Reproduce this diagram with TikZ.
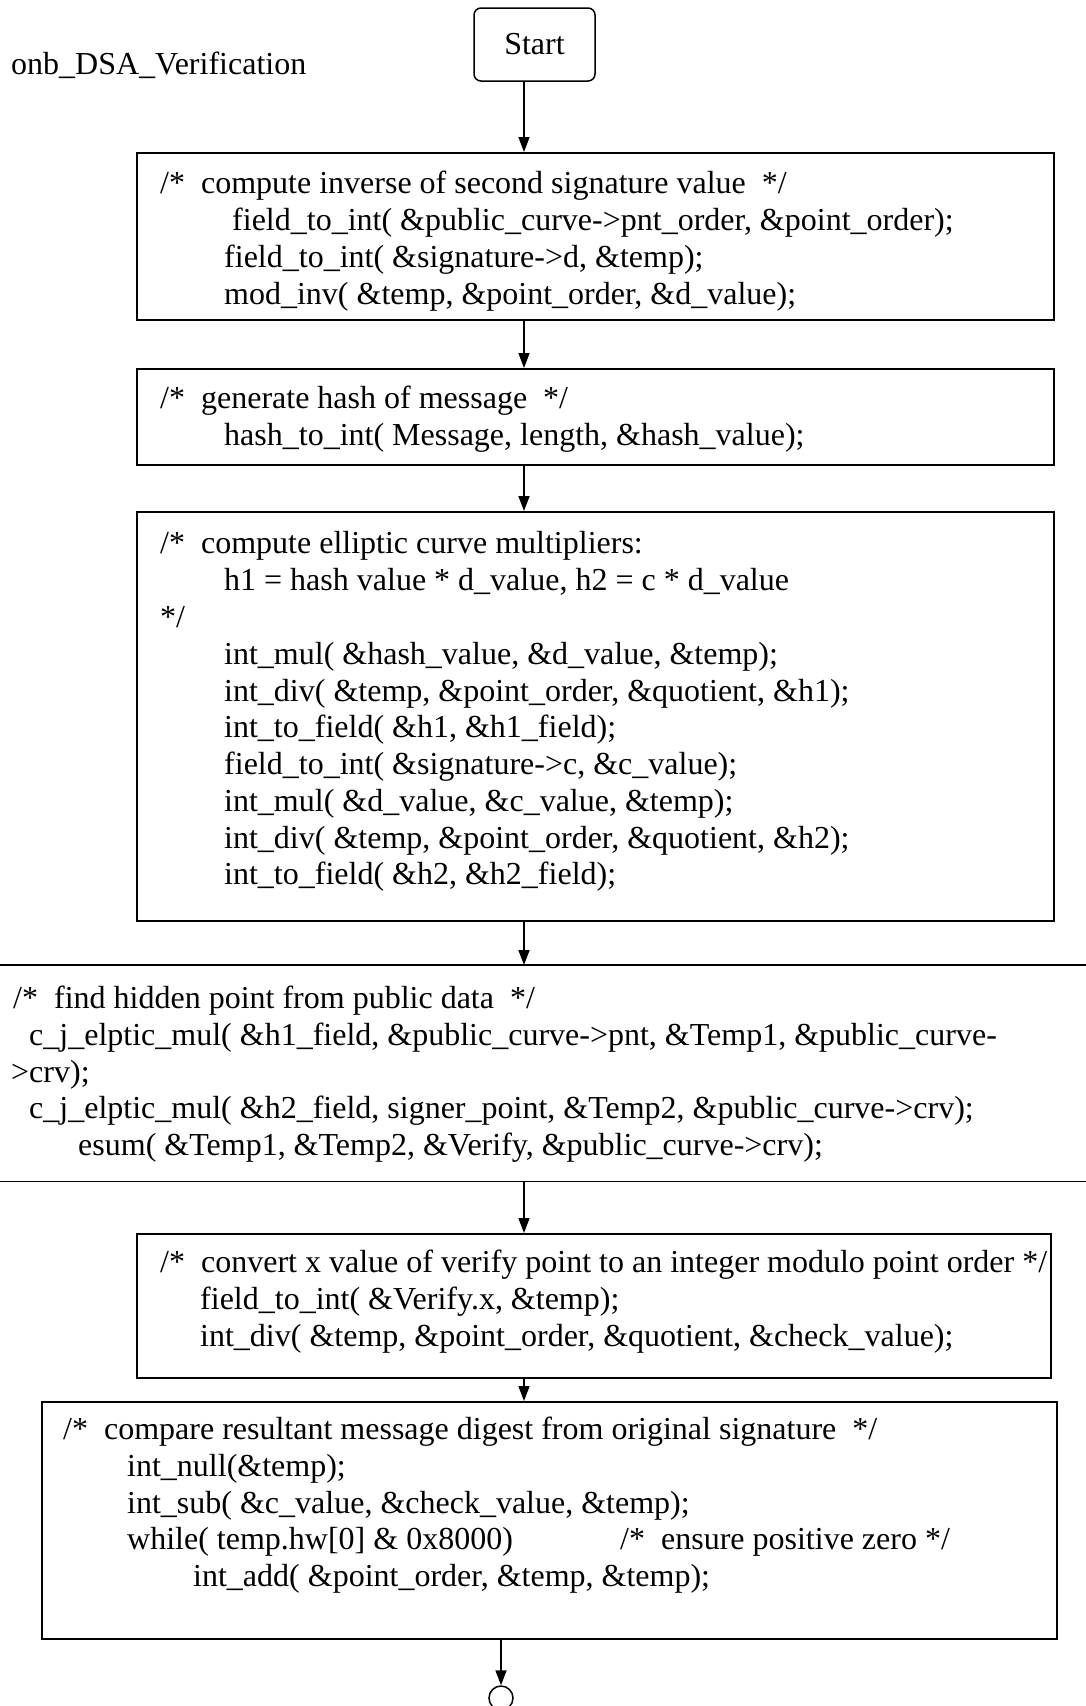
\documentclass[tikz,border=0pt]{standalone}
\usepackage{fontspec}
\setmainfont{Liberation Serif}
\usetikzlibrary{arrows.meta}
\begin{document}
\begin{tikzpicture}[x=1pt,y=-1pt,
  every node/.style={font=\fontsize{32}{36}\selectfont},
  stepbox/.style={draw, line width=1.5pt, anchor=north west, inner sep=0pt},
  bandbox/.style={anchor=north west, inner sep=0pt},
  code/.style={anchor=base west, inner sep=0pt},
  flow/.style={line width=1.5pt, -{Triangle[length=15pt,width=11pt]}}]
\useasboundingbox (0,0) rectangle (1086,1706);

% title and start terminal
\node[code] (title) at (11,74) {onb\_DSA\_Verification};
\node[draw, line width=1.5pt, rounded corners=7pt, minimum width=121pt,
      minimum height=73pt, inner sep=0pt] (start) at (534.5,44.5) {Start};

% process boxes
\node[stepbox, minimum width=917pt, minimum height=167pt] (b1) at (136,152) {};
\node[stepbox, minimum width=917pt, minimum height=96pt]  (b2) at (136,368) {};
\node[stepbox, minimum width=917pt, minimum height=409pt] (b3) at (136,511) {};
\node[bandbox, minimum width=1086pt, minimum height=216pt] (b4) at (0,965) {};
\draw[line width=1.5pt] (b4.north west) -- (b4.north east);
\draw[line width=1.5pt] (b4.south west) -- (b4.south east);
\node[stepbox, minimum width=914pt, minimum height=144pt] (b5) at (136,1233) {};
\node[stepbox, minimum width=1015pt, minimum height=237pt] (b6) at (41,1401) {};
\coordinate (xa) at (524,0);
\node[draw, line width=1.5pt, circle, minimum size=24pt, inner sep=0pt] (stop) at (501,1698) {};

% box 1 text
\node[code] (t1a) at (160,193) {/*\ \ compute inverse of second signature value\ \ */};
\node[code] (t1b) at (232,230) {field\_to\_int( \&public\_curve->pnt\_order, \&point\_order);};
\node[code] (t1c) at (224,267) {field\_to\_int( \&signature->d, \&temp);};
\node[code] (t1d) at (224,304) {mod\_inv( \&temp, \&point\_order, \&d\_value);};

% box 2 text
\node[code] (t2a) at (160,408) {/*\ \ generate hash of message\ \ */};
\node[code] (t2b) at (224,445) {hash\_to\_int( Message, length, \&hash\_value);};

% box 3 text
\node[code] (t3a) at (160,553) {/*\ \ compute elliptic curve multipliers:};
\node[code] (t3b) at (224,590) {h1 = hash value * d\_value, h2 = c * d\_value};
\node[code] (t3c) at (160,627) {*/};
\node[code] (t3d) at (224,664) {int\_mul( \&hash\_value, \&d\_value, \&temp);};
\node[code] (t3e) at (224,701) {int\_div( \&temp, \&point\_order, \&quotient, \&h1);};
\node[code] (t3f) at (224,737) {int\_to\_field( \&h1, \&h1\_field);};
\node[code] (t3g) at (224,774) {field\_to\_int( \&signature->c, \&c\_value);};
\node[code] (t3h) at (224,811) {int\_mul( \&d\_value, \&c\_value, \&temp);};
\node[code] (t3i) at (224,848) {int\_div( \&temp, \&point\_order, \&quotient, \&h2);};
\node[code] (t3j) at (224,884) {int\_to\_field( \&h2, \&h2\_field);};

% box 4 text
\node[code] (t4a) at (13,1008) {/*\ \ find hidden point from public data\ \ */};
\node[code] (t4b) at (29,1045) {c\_j\_elptic\_mul( \&h1\_field, \&public\_curve->pnt, \&Temp1, \&public\_curve-};
\node[code] (t4c) at (11,1082) {>crv);};
\node[code] (t4d) at (29,1118) {c\_j\_elptic\_mul( \&h2\_field, signer\_point, \&Temp2, \&public\_curve->crv);};
\node[code] (t4e) at (78,1155) {esum( \&Temp1, \&Temp2, \&Verify, \&public\_curve->crv);};

% box 5 text
\node[code] (t5a) at (160,1272) {/*\ \ convert x value of verify point to an integer modulo point order */};
\node[code] (t5b) at (200,1309) {field\_to\_int( \&Verify.x, \&temp);};
\node[code] (t5c) at (200,1346) {int\_div( \&temp, \&point\_order, \&quotient, \&check\_value);};

% box 6 text
\node[code] (t6a) at (63,1439) {/*\ \ compare resultant message digest from original signature\ \ */};
\node[code] (t6b) at (127,1476) {int\_null(\&temp);};
\node[code] (t6c) at (127,1513) {int\_sub( \&c\_value, \&check\_value, \&temp);};
\node[code] (t6d) at (127,1549) {while( temp.hw[0] \& 0x8000)};
\node[code] (t6e) at (620,1549) {/*\ \ ensure positive zero */};
\node[code] (t6f) at (193,1586) {int\_add( \&point\_order, \&temp, \&temp);};

% connectors
\draw[flow] (start.south -| xa) -- (b1.north -| xa);
\draw[flow] (b1.south -| xa) -- (b2.north -| xa);
\draw[flow] (b2.south -| xa) -- (b3.north -| xa);
\draw[flow] (b3.south -| xa) -- (b4.north -| xa);
\draw[flow] (b4.south -| xa) -- (b5.north -| xa);
\draw[flow] (b5.south -| xa) -- (b6.north -| xa);
\draw[flow] (b6.south -| stop) -- (stop.north);
\end{tikzpicture}
\end{document}
